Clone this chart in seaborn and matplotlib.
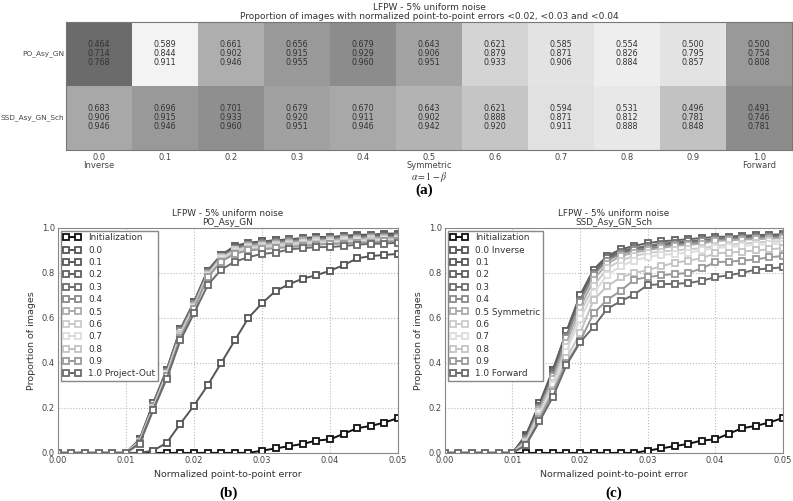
import numpy as np
import pandas as pd
import matplotlib
matplotlib.use('Agg')
import matplotlib.pyplot as plt
import seaborn as sns

# ---- data: heatmap (a) ----
methods = ['PO_Asy_GN', 'SSD_Asy_GN_Sch']
alpha_ticks = ['0.0\nInverse', '0.1', '0.2', '0.3', '0.4', '0.5\nSymmetric',
               '0.6', '0.7', '0.8', '0.9', '1.0\nForward']
po_002 = [0.464, 0.589, 0.661, 0.656, 0.679, 0.643, 0.621, 0.585, 0.554, 0.500, 0.500]
po_003 = [0.714, 0.844, 0.902, 0.915, 0.929, 0.906, 0.879, 0.871, 0.826, 0.795, 0.754]
po_004 = [0.768, 0.911, 0.946, 0.955, 0.960, 0.951, 0.933, 0.906, 0.884, 0.857, 0.808]
ssd_002 = [0.683, 0.696, 0.701, 0.679, 0.670, 0.643, 0.621, 0.594, 0.531, 0.496, 0.491]
ssd_003 = [0.906, 0.915, 0.933, 0.920, 0.911, 0.902, 0.888, 0.871, 0.812, 0.781, 0.746]
ssd_004 = [0.946, 0.946, 0.960, 0.951, 0.946, 0.942, 0.920, 0.911, 0.888, 0.848, 0.781]
# cell grey level
po_shade = [0.42, 0.95, 0.68, 0.60, 0.55, 0.64, 0.83, 0.89, 0.93, 0.89, 0.60]
ssd_shade = [0.66, 0.60, 0.56, 0.63, 0.66, 0.70, 0.77, 0.88, 0.91, 0.76, 0.55]

# ---- data: curves (b), (c) ----
err = [0.000, 0.002, 0.004, 0.006, 0.008, 0.010, 0.012, 0.014, 0.016, 0.018, 0.020, 0.022, 0.024,
       0.026, 0.028, 0.030, 0.032, 0.034, 0.036, 0.038, 0.040, 0.042, 0.044, 0.046, 0.048, 0.050]
init_curve = [0, 0, 0, 0, 0, 0, 0, 0, 0, 0, 0, 0, 0, 0, 0, 0.01, 0.02, 0.03, 0.04, 0.055, 0.06,
              0.085, 0.11, 0.12, 0.135, 0.155]

labels_b = ['0.0', '0.1', '0.2', '0.3', '0.4', '0.5', '0.6', '0.7', '0.8', '0.9', '1.0 Project-Out']
labels_c = ['0.0 Inverse', '0.1', '0.2', '0.3', '0.4', '0.5 Symmetric', '0.6', '0.7', '0.8', '0.9',
            '1.0 Forward']
greys = ['#555555', '#585858', '#606060', '#6c6c6c', '#8a8a8a', '#ababab', '#cbcbcb', '#dcdcdc',
         '#c4c4c4', '#9a9a9a', '#6a6a6a']

po_curves = [
    [0, 0, 0, 0, 0, 0, 0, 0.01, 0.045, 0.13, 0.21, 0.30, 0.40, 0.50, 0.60, 0.665, 0.72, 0.75, 0.775, 0.79, 0.81, 0.835, 0.865, 0.875, 0.88, 0.885],
    [0, 0, 0, 0, 0, 0, 0.06, 0.22, 0.37, 0.55, 0.67, 0.81, 0.88, 0.92, 0.935, 0.94, 0.945, 0.95, 0.955, 0.96, 0.96, 0.965, 0.97, 0.97, 0.975, 0.975],
    [0, 0, 0, 0, 0, 0, 0.06, 0.22, 0.37, 0.55, 0.67, 0.81, 0.88, 0.915, 0.93, 0.94, 0.945, 0.945, 0.95, 0.955, 0.955, 0.96, 0.965, 0.965, 0.97, 0.97],
    [0, 0, 0, 0, 0, 0, 0.055, 0.21, 0.36, 0.54, 0.665, 0.80, 0.875, 0.91, 0.93, 0.935, 0.94, 0.945, 0.95, 0.95, 0.955, 0.96, 0.96, 0.965, 0.965, 0.965],
    [0, 0, 0, 0, 0, 0, 0.055, 0.21, 0.36, 0.54, 0.66, 0.80, 0.87, 0.905, 0.925, 0.93, 0.935, 0.94, 0.945, 0.95, 0.95, 0.955, 0.955, 0.96, 0.96, 0.96],
    [0, 0, 0, 0, 0, 0, 0.05, 0.20, 0.35, 0.53, 0.655, 0.795, 0.87, 0.90, 0.92, 0.925, 0.93, 0.935, 0.94, 0.945, 0.945, 0.95, 0.95, 0.955, 0.955, 0.955],
    [0, 0, 0, 0, 0, 0, 0.05, 0.20, 0.35, 0.53, 0.65, 0.79, 0.865, 0.90, 0.915, 0.92, 0.925, 0.93, 0.935, 0.94, 0.94, 0.945, 0.945, 0.95, 0.95, 0.95],
    [0, 0, 0, 0, 0, 0, 0.05, 0.20, 0.35, 0.52, 0.645, 0.785, 0.86, 0.895, 0.91, 0.915, 0.92, 0.925, 0.93, 0.935, 0.935, 0.94, 0.94, 0.945, 0.945, 0.945],
    [0, 0, 0, 0, 0, 0, 0.05, 0.20, 0.34, 0.52, 0.64, 0.78, 0.855, 0.89, 0.905, 0.91, 0.915, 0.92, 0.925, 0.93, 0.93, 0.935, 0.935, 0.94, 0.94, 0.94],
    [0, 0, 0, 0, 0, 0, 0.045, 0.19, 0.34, 0.51, 0.64, 0.78, 0.85, 0.885, 0.90, 0.905, 0.91, 0.915, 0.92, 0.925, 0.93, 0.93, 0.935, 0.935, 0.94, 0.94],
    [0, 0, 0, 0, 0, 0, 0.04, 0.19, 0.33, 0.50, 0.62, 0.745, 0.815, 0.85, 0.87, 0.885, 0.89, 0.905, 0.91, 0.915, 0.915, 0.92, 0.925, 0.93, 0.93, 0.935],
]
ssd_curves = [
    [0, 0, 0, 0, 0, 0, 0.08, 0.22, 0.37, 0.53, 0.683, 0.80, 0.86, 0.89, 0.905, 0.906, 0.92, 0.925, 0.93, 0.935, 0.946, 0.95, 0.955, 0.96, 0.96, 0.965],
    [0, 0, 0, 0, 0, 0, 0.075, 0.21, 0.37, 0.54, 0.696, 0.81, 0.87, 0.895, 0.91, 0.915, 0.925, 0.93, 0.935, 0.94, 0.946, 0.95, 0.955, 0.96, 0.965, 0.965],
    [0, 0, 0, 0, 0, 0, 0.07, 0.21, 0.36, 0.54, 0.701, 0.815, 0.875, 0.905, 0.92, 0.933, 0.94, 0.945, 0.95, 0.955, 0.96, 0.962, 0.965, 0.968, 0.97, 0.972],
    [0, 0, 0, 0, 0, 0, 0.065, 0.20, 0.35, 0.52, 0.679, 0.80, 0.865, 0.895, 0.91, 0.92, 0.93, 0.935, 0.94, 0.945, 0.951, 0.955, 0.96, 0.96, 0.965, 0.965],
    [0, 0, 0, 0, 0, 0, 0.06, 0.20, 0.34, 0.51, 0.670, 0.79, 0.855, 0.885, 0.90, 0.911, 0.92, 0.925, 0.93, 0.94, 0.946, 0.95, 0.952, 0.955, 0.958, 0.96],
    [0, 0, 0, 0, 0, 0, 0.055, 0.19, 0.33, 0.49, 0.643, 0.77, 0.84, 0.875, 0.89, 0.902, 0.91, 0.92, 0.925, 0.93, 0.942, 0.945, 0.948, 0.95, 0.952, 0.955],
    [0, 0, 0, 0, 0, 0, 0.05, 0.18, 0.31, 0.47, 0.621, 0.74, 0.82, 0.855, 0.875, 0.888, 0.895, 0.90, 0.905, 0.91, 0.92, 0.925, 0.93, 0.935, 0.94, 0.94],
    [0, 0, 0, 0, 0, 0, 0.045, 0.17, 0.30, 0.45, 0.594, 0.71, 0.79, 0.83, 0.855, 0.871, 0.88, 0.885, 0.89, 0.90, 0.911, 0.915, 0.92, 0.925, 0.928, 0.93],
    [0, 0, 0, 0, 0, 0, 0.04, 0.16, 0.28, 0.42, 0.531, 0.68, 0.74, 0.78, 0.80, 0.812, 0.83, 0.845, 0.855, 0.865, 0.888, 0.89, 0.895, 0.90, 0.905, 0.91],
    [0, 0, 0, 0, 0, 0, 0.035, 0.15, 0.27, 0.40, 0.496, 0.62, 0.68, 0.72, 0.77, 0.781, 0.79, 0.795, 0.80, 0.82, 0.848, 0.85, 0.855, 0.86, 0.87, 0.875],
    [0, 0, 0, 0, 0, 0, 0.035, 0.14, 0.25, 0.39, 0.491, 0.56, 0.64, 0.674, 0.704, 0.746, 0.75, 0.752, 0.755, 0.765, 0.781, 0.79, 0.80, 0.815, 0.82, 0.825],
]

sns.set_theme(style='whitegrid', rc={
    'grid.linestyle': ':', 'grid.color': '#bbbbbb', 'grid.linewidth': 0.8,
    'axes.edgecolor': '#888888', 'axes.linewidth': 0.8,
    'xtick.color': '#444444', 'ytick.color': '#444444',
    'text.color': '#333333', 'axes.labelcolor': '#333333',
    'mathtext.fontset': 'stix'})
plt.rcParams['font.family'] = ['DejaVu Sans']

fig = plt.figure(figsize=(7.93, 5.01), dpi=100)

# ---- (a) heatmap ----
ax_h = fig.add_axes([0.083, 0.701, 0.916, 0.255])
shade = pd.DataFrame([po_shade, ssd_shade], index=methods, columns=alpha_ticks)
annot = np.array([[f'{a:.3f}\n{b:.3f}\n{c:.3f}' for a, b, c in zip(po_002, po_003, po_004)],
                  [f'{a:.3f}\n{b:.3f}\n{c:.3f}' for a, b, c in zip(ssd_002, ssd_003, ssd_004)]])
sns.heatmap(shade, ax=ax_h, cmap='gray', vmin=0, vmax=1, cbar=False, annot=annot, fmt='',
            annot_kws=dict(fontsize=5.8, color='#333333', linespacing=1.0))
for sp in ax_h.spines.values():
    sp.set_visible(True)
    sp.set_color('#777777')
ax_h.set_xticklabels(alpha_ticks, rotation=0, fontsize=6, va='top', linespacing=0.95)
ax_h.set_yticklabels(methods, rotation=0, fontsize=5.3)
ax_h.tick_params(axis='x', length=0, pad=2)
ax_h.tick_params(axis='y', length=0, pad=1)
ax_h.set_xlabel(r'$\alpha = 1 - \beta$', fontsize=7, labelpad=0)
ax_h.set_ylabel('')
ax_h.set_title('LFPW - 5% uniform noise\nProportion of images with normalized point-to-point errors '
               '<0.02, <0.03 and <0.04', fontsize=6.5, pad=2, linespacing=1.05)


def curve_panel(ax, curves, labels, title):
    sns.lineplot(x=err, y=init_curve, ax=ax, color='#111111', marker='s', markersize=4.5,
                 markerfacecolor='white', markeredgecolor='#111111', markeredgewidth=1.3,
                 linewidth=1.4, label='Initialization')
    for vals, lab, col in zip(curves, labels, greys):
        sns.lineplot(x=err, y=vals, ax=ax, color=col, marker='s', markersize=4.5,
                     markerfacecolor='white', markeredgecolor=col, markeredgewidth=1.3,
                     linewidth=1.4, label=lab)
    ax.set_xlim(0, 0.05)
    ax.set_ylim(0, 1)
    ax.set_xticks([0, 0.01, 0.02, 0.03, 0.04, 0.05])
    ax.set_xticklabels(['0.00', '0.01', '0.02', '0.03', '0.04', '0.05'])
    ax.set_yticks([0, 0.2, 0.4, 0.6, 0.8, 1.0])
    ax.set_yticklabels(['0.0', '0.2', '0.4', '0.6', '0.8', '1.0'])
    ax.tick_params(labelsize=6, length=0, pad=2)
    ax.set_xlabel('Normalized point-to-point error', fontsize=6.8, labelpad=4)
    ax.set_ylabel('Proportion of images', fontsize=6.8, labelpad=4)
    ax.set_title(title, fontsize=6.4, pad=2, linespacing=1.05)
    ax.legend(loc='upper left', fontsize=6.4, numpoints=2, handlelength=2.0, labelspacing=0.38,
              borderaxespad=0.3, borderpad=0.3, fancybox=False, framealpha=1,
              edgecolor='#888888')


ax_b = fig.add_axes([0.073, 0.096, 0.429, 0.449])
curve_panel(ax_b, po_curves, labels_b, 'LFPW - 5% uniform noise\nPO_Asy_GN')
ax_c = fig.add_axes([0.561, 0.096, 0.426, 0.449])
curve_panel(ax_c, ssd_curves, labels_c, 'LFPW - 5% uniform noise\nSSD_Asy_GN_Sch')

serif = dict(family=['Liberation Serif', 'DejaVu Serif'], fontweight='bold', fontsize=11,
             color='black', ha='center', va='center')
fig.text(0.535, 0.620, '(a)', **serif)
fig.text(0.288, 0.015, '(b)', **serif)
fig.text(0.774, 0.015, '(c)', **serif)

fig.savefig('out.png', dpi=100)
